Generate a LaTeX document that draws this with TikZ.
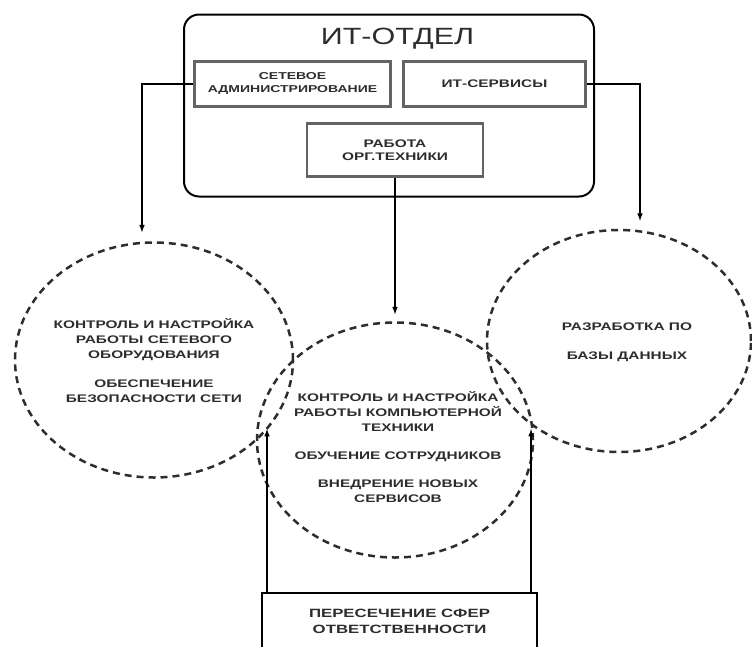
\documentclass[tikz,border=0pt]{standalone}
\usepackage{fontspec}
\setmainfont{Liberation Sans}[FakeStretch=1.3]
\newfontfamily\widesans{Liberation Sans}[FakeStretch=1.4]
\usetikzlibrary{shapes.geometric}

\definecolor{ink}{RGB}{45,45,45}
\definecolor{boxgray}{RGB}{100,100,100}
\tikzset{px/.style={x=1pt,y=-1pt}}
\tikzset{unit/.style={draw=boxgray,line width=2.5pt,inner sep=0pt,align=center,text=ink,
                      font=\widesans\bfseries\fontsize{10}{13}\selectfont},
         zone/.style={ellipse,draw=ink,line width=2.5pt,dash pattern=on 7pt off 5pt,inner sep=0pt},
         zonetxt/.style={align=center,text=ink,font=\widesans\bfseries\fontsize{11}{15}\selectfont},
         arr/.style={-latex,line width=1.5pt}}

\begin{document}
\begin{tikzpicture}[px]
    \useasboundingbox (0,0) rectangle (752,646);
    % department block
    \node[draw,line width=2pt,rounded corners=15pt,minimum width=410pt,minimum height=182pt] (dept) at (389,105.5) {};
    \node[text=ink,font=\fontsize{23.5}{24}\selectfont] (title) at (397.5,39) {ИТ-ОТДЕЛ};
    \node[unit,minimum width=196pt,minimum height=45pt] (net) at (292.5,84) {СЕТЕВОЕ\\АДМИНИСТРИРОВАНИЕ};
    \node[unit,minimum width=182pt,minimum height=45pt,font=\widesans\bfseries\fontsize{11}{13}\selectfont] (its) at (494.5,84) {ИТ-СЕРВИСЫ};
    \node[unit,minimum width=176pt,minimum height=53pt,font=\widesans\bfseries\fontsize{11}{13}\selectfont] (tech) at (395,150) {РАБОТА\\ОРГ.ТЕХНИКИ};
    % areas of responsibility
    \node[zone,minimum width=278pt,minimum height=235pt] (left) at (154,360) {};
    \node[zone,minimum width=276pt,minimum height=235pt] (mid) at (395,440) {};
    \node[zone,minimum width=264pt,minimum height=222pt] (right) at (619,341) {};
    \node[zonetxt] (lefttxt) at ([yshift=-1pt]left) {КОНТРОЛЬ И НАСТРОЙКА\\РАБОТЫ СЕТЕВОГО\\ОБОРУДОВАНИЯ\\[14pt]ОБЕСПЕЧЕНИЕ\\БЕЗОПАСНОСТИ СЕТИ};
    \node[zonetxt] (midtxt) at ([xshift=3pt,yshift=-7pt]mid) {КОНТРОЛЬ И НАСТРОЙКА\\РАБОТЫ КОМПЬЮТЕРНОЙ\\ТЕХНИКИ\\[13pt]ОБУЧЕНИЕ СОТРУДНИКОВ\\[13pt]ВНЕДРЕНИЕ НОВЫХ\\СЕРВИСОВ};
    \node[zonetxt] (righttxt) at ([xshift=8pt,yshift=-1pt]right) {РАЗРАБОТКА ПО\\[14pt]БАЗЫ ДАННЫХ};
    \node[draw,line width=2pt,minimum width=275pt,minimum height=57pt,align=center,text=ink,
          font=\widesans\bfseries\fontsize{12}{16}\selectfont] (resp) at (399.5,621.5) {ПЕРЕСЕЧЕНИЕ СФЕР\\ОТВЕТСТВЕННОСТИ};
    % connectors
    \draw[arr] (net.west) -| ([xshift=-12pt,yshift=9pt]left.north);
    \draw[arr] (its.east) -| ([xshift=21pt,yshift=8pt]right.north);
    \draw[arr] (tech.south) -- ([yshift=7pt]mid.north);
    \draw[arr] ([xshift=6pt]resp.north west) -- ++(0,-163);
    \draw[arr] ([xshift=-7pt]resp.north east) -- ++(0,-163);
\end{tikzpicture}
\end{document}
